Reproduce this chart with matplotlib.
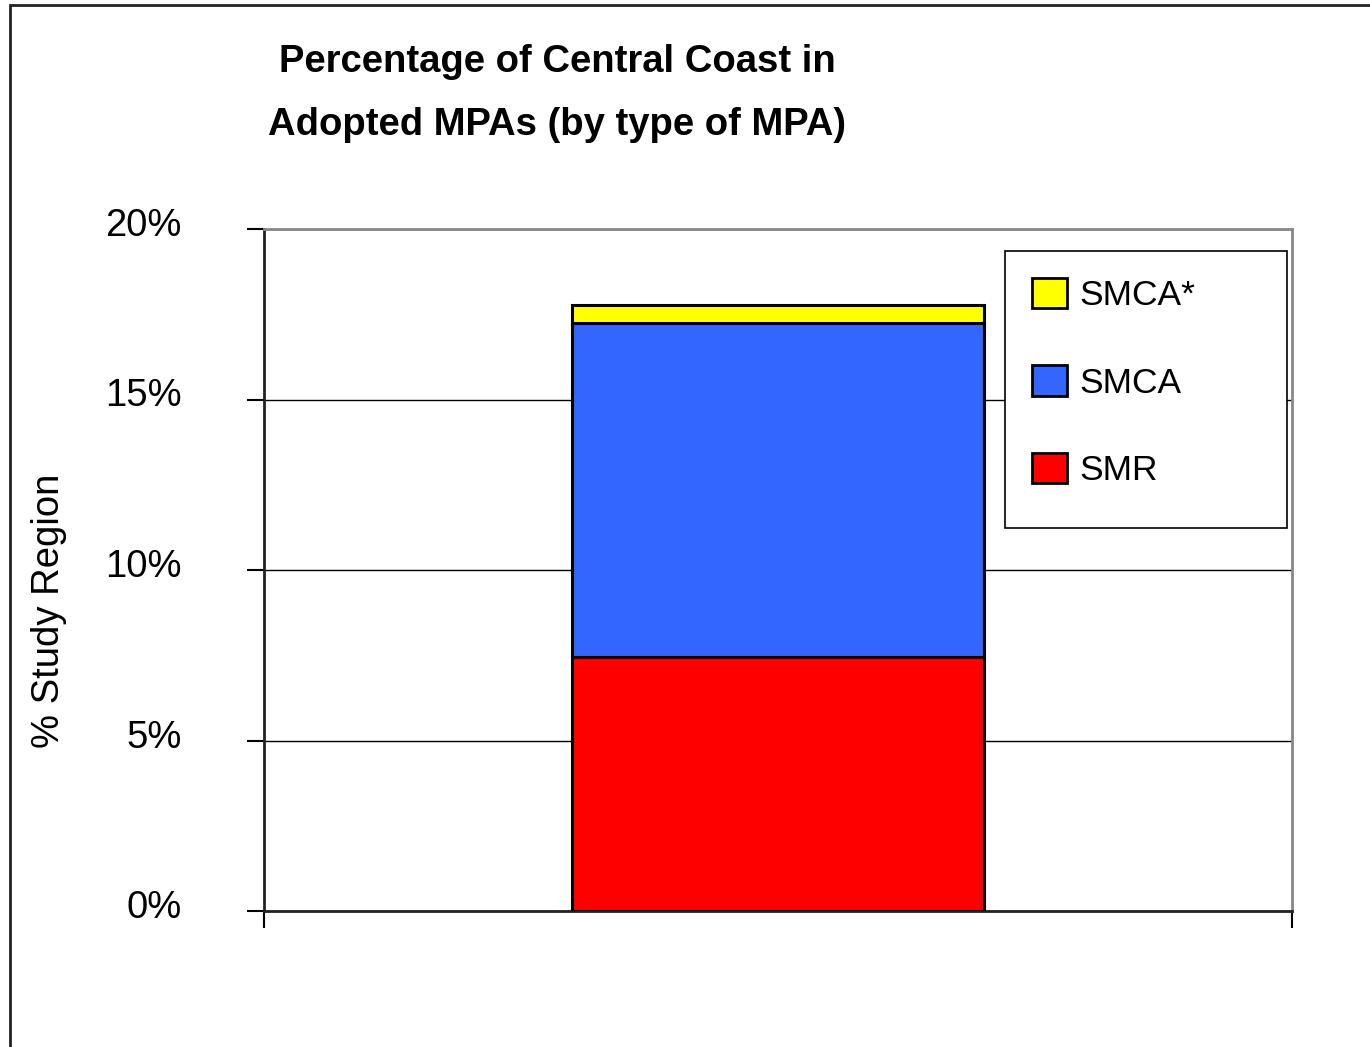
import matplotlib
matplotlib.use("Agg")
import matplotlib.pyplot as plt
from matplotlib.patches import Rectangle, Patch
from matplotlib.transforms import ScaledTranslation

plt.rcParams['font.family'] = ['Liberation Sans', 'DejaVu Sans']

categories = ["Central Coast"]
series_names = ["SMR", "SMCA", "SMCA*"]
smr = [7.46]
smca = [9.77]
smca_star = [0.54]
colors = ["#FF0000", "#3366FF", "#FFFF00"]
yticks = [0, 5, 10, 15, 20]
ytick_labels = ["0%", "5%", "10%", "15%", "20%"]

W, H = 1370, 1047
fig = plt.figure(figsize=(W / 100, H / 100), dpi=100)
ax = fig.add_axes([264 / W, 1 - 911 / H, (1292 - 264) / W, (911 - 229) / H])

x = list(range(len(categories)))
bottom = [0.0] * len(categories)
for name, vals, c in zip(series_names, [smr, smca, smca_star], colors):
    ax.bar(x, vals, bottom=bottom, width=0.4, color=c, edgecolor="black",
           linewidth=2.2, zorder=3, label=name)
    bottom = [b + v for b, v in zip(bottom, vals)]

ax.set_xlim(-0.5, 0.5)
ax.set_ylim(0, 20)
ax.set_yticks(yticks)
ax.set_yticklabels(ytick_labels, fontsize=27.5)
ax.set_xticks([-0.5, 0.5])
ax.set_xticklabels([])
ax.tick_params(axis='y', length=12.5, width=1.5, pad=47, color="black")
off = ScaledTranslation(0, 7 / 100, fig.dpi_scale_trans)
for lbl in ax.get_yticklabels():
    lbl.set_horizontalalignment('right')
    lbl.set_transform(lbl.get_transform() + off)
ax.tick_params(axis='x', length=12, width=1.5, color="black")
ax.yaxis.grid(True, color="black", linewidth=1.0, zorder=0)
ax.set_axisbelow(True)
ax.spines['left'].set_color("#222222")
ax.spines['bottom'].set_color("#222222")
ax.spines['top'].set_color("#888888")
ax.spines['right'].set_color("#888888")
for s in ax.spines.values():
    s.set_linewidth(2)

fig.text(49 / W, 1 - 611 / H, "% Study Region", rotation=90,
         ha="center", va="center", fontsize=27.5)

fig.text(557 / W, 1 - 62 / H, "Percentage of Central Coast in",
         ha="center", va="center", fontsize=27.5, fontweight="bold")
fig.text(557 / W, 1 - 125 / H, "Adopted MPAs (by type of MPA)",
         ha="center", va="center", fontsize=27.5, fontweight="bold")

# legend box
fig.patches.append(Rectangle((1005 / W, 1 - 528 / H), (1287 - 1005) / W, (528 - 251) / H,
                             transform=fig.transFigure, facecolor="white",
                             edgecolor="black", linewidth=1.2, zorder=4))

handles = [Patch(facecolor=c, edgecolor="black", linewidth=2) for c in colors]
handles = handles[::-1]
labels = series_names[::-1]
leg = fig.legend(handles, labels, loc="upper left",
                 bbox_to_anchor=(1005 / W, 1 - 251 / H),
                 borderaxespad=0, fontsize=25.5,
                 handlelength=1.0, handleheight=0.95, handletextpad=0.35,
                 labelspacing=1.5, borderpad=0.75, frameon=False)
leg.set_zorder(5)

fig.patches.append(Rectangle((10 / W, -0.5), 2, 1.5 - 5 / H, transform=fig.transFigure,
                             fill=False, edgecolor="#222222", linewidth=2))

fig.savefig("out.png", dpi=100)
